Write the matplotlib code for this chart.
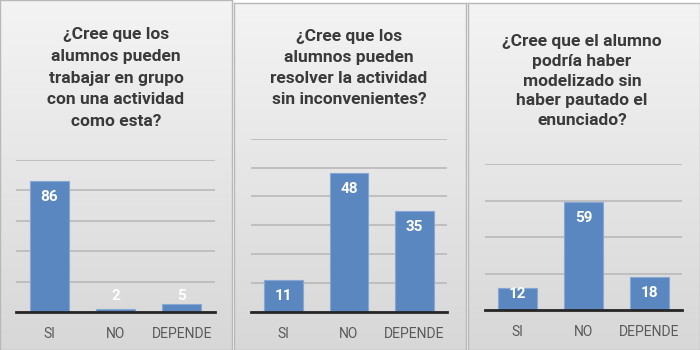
import numpy as np
import matplotlib
matplotlib.use("Agg")
import matplotlib.pyplot as plt

categories = ['SI', 'NO', 'DEPENDE']

titles = [
    '¿Cree que los\nalumnos pueden\ntrabajar en grupo\ncon una actividad\ncomo esta?',
    '¿Cree que los\nalumnos pueden\nresolver la actividad\nsin inconvenientes?',
    '¿Cree que el alumno\npodría haber\nmodelizado sin\nhaber pautado el\nenunciado?',
]

values_1 = [86, 2, 5]
values_2 = [11, 48, 35]
values_3 = [12, 59, 18]
all_values = [values_1, values_2, values_3]

y_max = [100, 60, 80]
y_step = [20, 10, 20]

W, H = 700, 350
fig = plt.figure(figsize=(7, 3.5), dpi=100)
fig.patch.set_facecolor('white')

def px(x0, y0, x1, y1):
    # pixel box (top-left origin) -> figure fraction rect
    return [x0 / W, 1 - y1 / H, (x1 - x0) / W, (y1 - y0) / H]

# panel backgrounds with a soft vertical gradient
panels = [(0, 0, 232, 350), (234, 3, 466, 350), (468, 3, 700, 350)]
grad = np.linspace(0, 1, 256).reshape(-1, 1)
top_c = np.array([0.955, 0.955, 0.955])
bot_c = np.array([0.845, 0.845, 0.845])
img = top_c + (bot_c - top_c) * grad[:, :, None]
for (x0, y0, x1, y1) in panels:
    bg = fig.add_axes(px(x0, y0, x1, y1), zorder=0)
    bg.imshow(img, aspect='auto', extent=(0, 1, 0, 1))
    bg.set_xlim(0, 1)
    bg.set_ylim(0, 1)
    bg.set_xticks([])
    bg.set_yticks([])
    for s in bg.spines.values():
        s.set_color('#b8b8b8')
        s.set_linewidth(1.0)

plot_boxes = [(16, 160, 215, 312), (251, 138.7, 447, 312), (485, 164, 682, 310)]
title_pos = [(116, 78), (349, 68), (582, 81)]
title_spacing = [1.56, 1.52, 1.41]

bar_color = '#5b87c1'
edge_color = '#86a6d3'
fam = ['Roboto', 'DejaVu Sans']

for k in range(3):
    ax = fig.add_axes(px(*plot_boxes[k]), zorder=2)
    ax.patch.set_alpha(0)
    vals = all_values[k]
    x = np.arange(len(categories))
    ax.set_xlim(-0.5, 2.5)
    ax.set_ylim(0, y_max[k])
    ax.set_yticks(np.arange(0, y_max[k] + 1, y_step[k]))
    ax.yaxis.grid(True, color='#b9b9b9', linewidth=1.2)
    ax.set_axisbelow(True)
    ax.bar(x, vals, width=0.59, color=bar_color, edgecolor=edge_color,
           linewidth=0.8, zorder=3)
    ax.axhline(0, color='#262626', linewidth=2, zorder=4, clip_on=False)
    for s in ax.spines.values():
        s.set_visible(False)
    ax.set_yticklabels([])
    ax.tick_params(axis='y', length=0)
    ax.set_xticks(x)
    ax.set_xticklabels(categories)
    ax.tick_params(axis='x', length=0, pad=11, labelsize=10, labelcolor='#595959')
    for lab in ax.get_xticklabels():
        lab.set_family(fam)

    # value labels: inside the top of the bar, but kept clear of the baseline
    for i, v in enumerate(vals):
        top = ax.transData.transform((i, v))[1]
        base = ax.transData.transform((i, 0))[1]
        yl = max(top - 16, base + 16)
        yd = ax.transData.inverted().transform((0, yl))[1]
        ax.text(i, yd, str(v), ha='center', va='center', color='white',
                fontsize=11, fontweight='bold', family=fam, zorder=5)

    tx, ty = title_pos[k]
    fig.text(tx / W, 1 - ty / H, titles[k], ha='center', va='center',
             fontsize=12.5, fontweight='bold', color='#3a3a3a',
             family=fam, linespacing=title_spacing[k], zorder=5)

fig.savefig('out.png', dpi=100)
